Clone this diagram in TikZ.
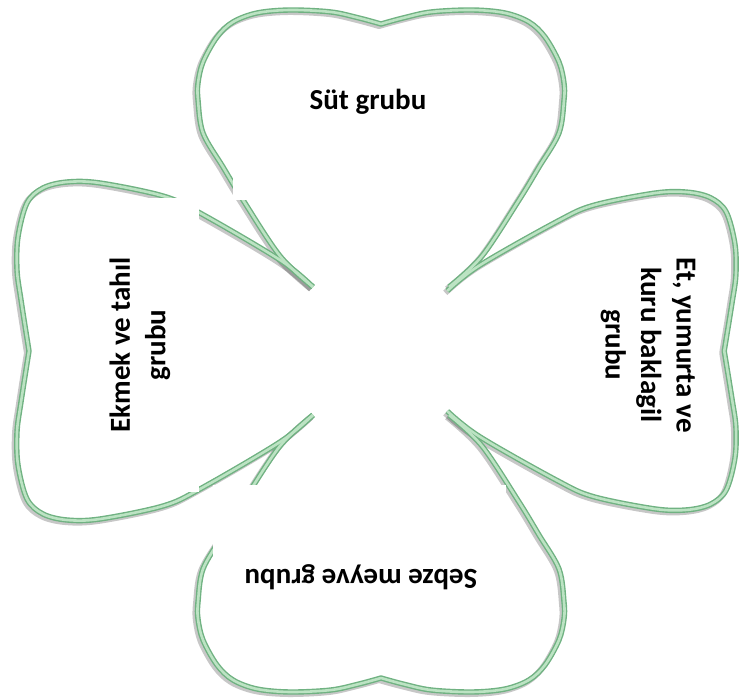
\documentclass[tikz,border=0pt]{standalone}
\usepackage{fontspec}
\setmainfont{Carlito}
\definecolor{leafedge}{RGB}{112,178,130}
\definecolor{leaffill}{RGB}{188,227,195}
\tikzset{
  leafshadow/.style={draw=black,opacity=.22,line width=6pt,line join=round},
  leafline/.style={draw=leafedge,line width=5.4pt,line join=round},
  leafcore/.style={draw=leaffill,line width=2.6pt,line join=round},
  grouptext/.style={font=\bfseries\fontsize{29}{35.5}\selectfont,align=center,inner sep=0pt}
}
% petal pointing up, tip near the centre (top and bottom leaves)
\newcommand*{\vpetal}{plot[smooth,tension=.55] coordinates {(-68,64) (-101,95) (-138,151)
  (-158,184) (-178,218) (-183,251) (-183,268) (-178,289) (-164,314) (-148,329) (-124,338)
  (-91,341) (-50,339) (-22,333) (0,327)}
  -- plot[smooth,tension=.55] coordinates {(0,327) (22,333) (50,339) (91,341) (124,338)
  (148,329) (164,314) (178,289) (183,268) (183,251) (178,218) (158,184) (138,151) (101,95) (68,64)}}
% longer, narrower petal (left and right leaves)
\newcommand*{\hpetal}{plot[smooth,tension=.55] coordinates {(-64,68) (-91,101) (-138,181)
  (-155,218) (-168,281) (-169,314) (-163,338) (-148,354) (-114,363) (-81,364) (-51,360) (0,352)}
  -- plot[smooth,tension=.55] coordinates {(0,352) (51,360) (81,364) (114,363) (148,354)
  (163,338) (169,314) (168,281) (155,218) (138,181) (91,101) (64,68)}}

\begin{document}
\begin{tikzpicture}[x=1pt,y=1pt]
\useasboundingbox (0,0) rectangle (739,697);

% the clover: shadow, green rim, light core
\foreach \sty/\dx/\dy in {leafshadow/-2/-2,leafline/0/0,leafcore/0/0} {
  \begin{scope}[shift={(381+\dx,346+\dy)}]
    \draw[\sty] \vpetal;
    \draw[\sty,rotate=180] \vpetal;
    \draw[\sty,rotate=90] \hpetal;
    \draw[\sty,rotate=-90,xscale=.94,yscale=.975] \hpetal;
  \end{scope}
}

% white text boxes lying over the rim
\fill[white] (233,497) rectangle (505,657);
\fill[white] (60,205) rectangle (199,499);
\fill[white] (213,57) rectangle (506,212);

\node[grouptext] (sut) at (368,595) {Süt grubu};
\node[grouptext,rotate=-90] (et) at (648,352) {Et, yumurta ve\\kuru baklagil\\grubu};
\node[grouptext,rotate=90] (ekmek) at (140,352) {Ekmek ve tahıl\\grubu};
\node[grouptext,rotate=180] (sebze) at (361,120) {Sebze meyve grubu};
\end{tikzpicture}
\end{document}
